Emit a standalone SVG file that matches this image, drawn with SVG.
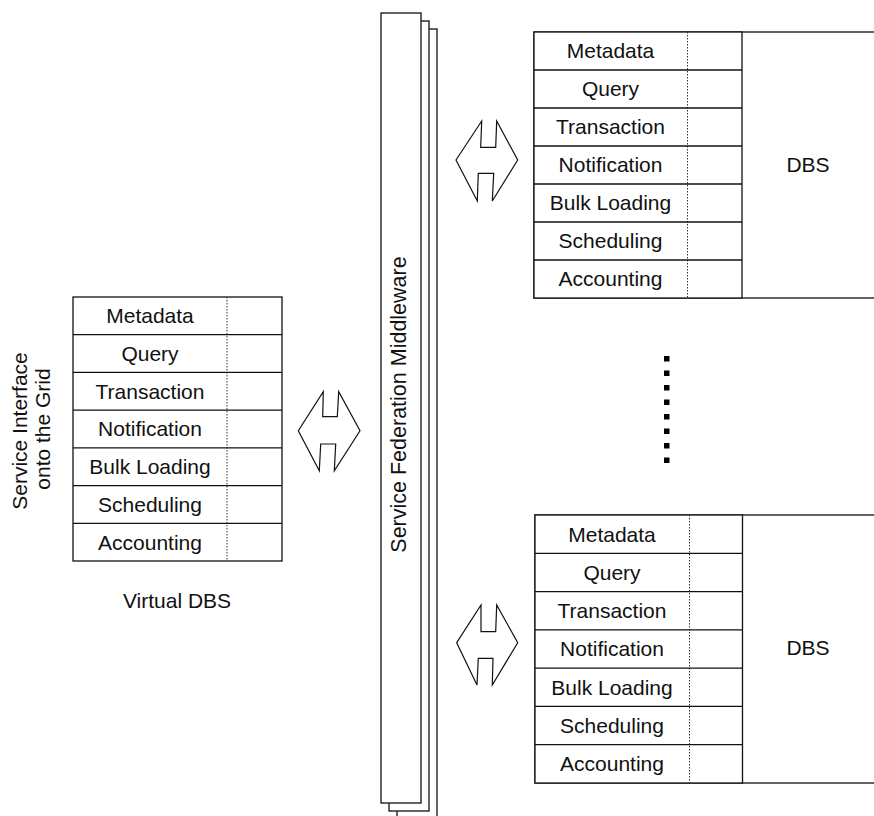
<svg xmlns="http://www.w3.org/2000/svg" width="874" height="816" viewBox="0 0 874 816">
<style>
  .ln{fill:none;stroke:#111;stroke-width:1.3}
  .bx{fill:#fff;stroke:#111;stroke-width:1.3}
  .dt{fill:none;stroke:#333;stroke-width:1;stroke-dasharray:1.5,1.5}
  .t{font-family:"Liberation Sans",Arial,sans-serif;font-size:21px;fill:#111;text-anchor:middle}
  .ar{fill:#fff;stroke:#111;stroke-width:1.2;stroke-linejoin:miter}
</style>
<rect width="874" height="816" fill="#fff"/>

<g id="middleware">
  <rect class="bx" x="397" y="29" width="40" height="800"/>
  <rect class="bx" x="389" y="21" width="40" height="790"/>
  <rect class="bx" x="381" y="13" width="40" height="790"/>
  <text class="t" style="font-size:21.5px" transform="translate(406,404.5) rotate(-90)">Service Federation Middleware</text>
</g>

<g id="virtual-dbs">
  <rect class="bx" x="73" y="297" width="209" height="264"/>
  <line class="dt" x1="227" y1="297" x2="227" y2="561"/>
  <g class="ln">
    <line x1="73" y1="334.7" x2="282" y2="334.7"/>
    <line x1="73" y1="372.4" x2="282" y2="372.4"/>
    <line x1="73" y1="410.1" x2="282" y2="410.1"/>
    <line x1="73" y1="447.9" x2="282" y2="447.9"/>
    <line x1="73" y1="485.6" x2="282" y2="485.6"/>
    <line x1="73" y1="523.3" x2="282" y2="523.3"/>
  </g>
  <text class="t" x="150" y="323.2">Metadata</text>
  <text class="t" x="150" y="360.9">Query</text>
  <text class="t" x="150" y="398.6">Transaction</text>
  <text class="t" x="150" y="436.3">Notification</text>
  <text class="t" x="150" y="474.1">Bulk Loading</text>
  <text class="t" x="150" y="511.8">Scheduling</text>
  <text class="t" x="150" y="549.5">Accounting</text>
  <text class="t" x="177" y="608">Virtual DBS</text>
  <text class="t" transform="translate(27,431) rotate(-90)">Service Interface</text>
  <text class="t" transform="translate(50,429) rotate(-90)">onto the Grid</text>
</g>

<g id="dbs-top">
  <rect class="bx" x="534" y="32" width="360" height="266"/>
  <rect class="bx" x="534" y="32" width="208" height="266"/>
  <line class="dt" x1="687.5" y1="32" x2="687.5" y2="298"/>
  <g class="ln">
    <line x1="534" y1="70" x2="742" y2="70"/>
    <line x1="534" y1="108" x2="742" y2="108"/>
    <line x1="534" y1="146" x2="742" y2="146"/>
    <line x1="534" y1="184" x2="742" y2="184"/>
    <line x1="534" y1="222" x2="742" y2="222"/>
    <line x1="534" y1="260" x2="742" y2="260"/>
  </g>
  <text class="t" x="610.5" y="58.3">Metadata</text>
  <text class="t" x="610.5" y="96.3">Query</text>
  <text class="t" x="610.5" y="134.3">Transaction</text>
  <text class="t" x="610.5" y="172.3">Notification</text>
  <text class="t" x="610.5" y="210.3">Bulk Loading</text>
  <text class="t" x="610.5" y="248.3">Scheduling</text>
  <text class="t" x="610.5" y="286.3">Accounting</text>
  <text class="t" x="808" y="172">DBS</text>
</g>

<g id="dbs-bottom">
  <rect class="bx" x="535" y="515" width="360" height="268"/>
  <rect class="bx" x="535" y="515" width="207.5" height="268"/>
  <line class="dt" x1="689.5" y1="515" x2="689.5" y2="783"/>
  <g class="ln">
    <line x1="535" y1="553.3" x2="742.5" y2="553.3"/>
    <line x1="535" y1="591.6" x2="742.5" y2="591.6"/>
    <line x1="535" y1="629.9" x2="742.5" y2="629.9"/>
    <line x1="535" y1="668.1" x2="742.5" y2="668.1"/>
    <line x1="535" y1="706.4" x2="742.5" y2="706.4"/>
    <line x1="535" y1="744.7" x2="742.5" y2="744.7"/>
  </g>
  <text class="t" x="612" y="541.5">Metadata</text>
  <text class="t" x="612" y="579.8">Query</text>
  <text class="t" x="612" y="618.1">Transaction</text>
  <text class="t" x="612" y="656.3">Notification</text>
  <text class="t" x="612" y="694.6">Bulk Loading</text>
  <text class="t" x="612" y="732.9">Scheduling</text>
  <text class="t" x="612" y="771.2">Accounting</text>
  <text class="t" x="808" y="655">DBS</text>
</g>

<g id="ellipsis" fill="#000">
  <rect x="664" y="356" width="5.5" height="5.5"/>
  <rect x="664" y="370.5" width="5.5" height="5.5"/>
  <rect x="664" y="385" width="5.5" height="5.5"/>
  <rect x="664" y="399.5" width="5.5" height="5.5"/>
  <rect x="664" y="414" width="5.5" height="5.5"/>
  <rect x="664" y="428.5" width="5.5" height="5.5"/>
  <rect x="664" y="443" width="5.5" height="5.5"/>
  <rect x="664" y="457.5" width="5.5" height="5.5"/>
</g>

<g id="connectors">
  <polygon class="ar" points="298.3,430.7 323.3,391.7 322.7,416.7 337.3,416.7 338.7,391.7 360,430.7 334.3,470.7 335.7,444 320.7,444 319.3,470.7"/>
  <polygon class="ar" points="456,160 481.7,121 480.7,147.3 495.7,147.3 496.7,121 517.7,160 492.3,201 493.7,173.3 478.3,173.3 477.3,201"/>
  <polygon class="ar" points="456.7,642.7 481,605 481,631.7 495.7,631.7 496.7,605 517.7,642.7 492.3,685 493,658.3 478.3,658.3 477,685"/>
</g>
</svg>
